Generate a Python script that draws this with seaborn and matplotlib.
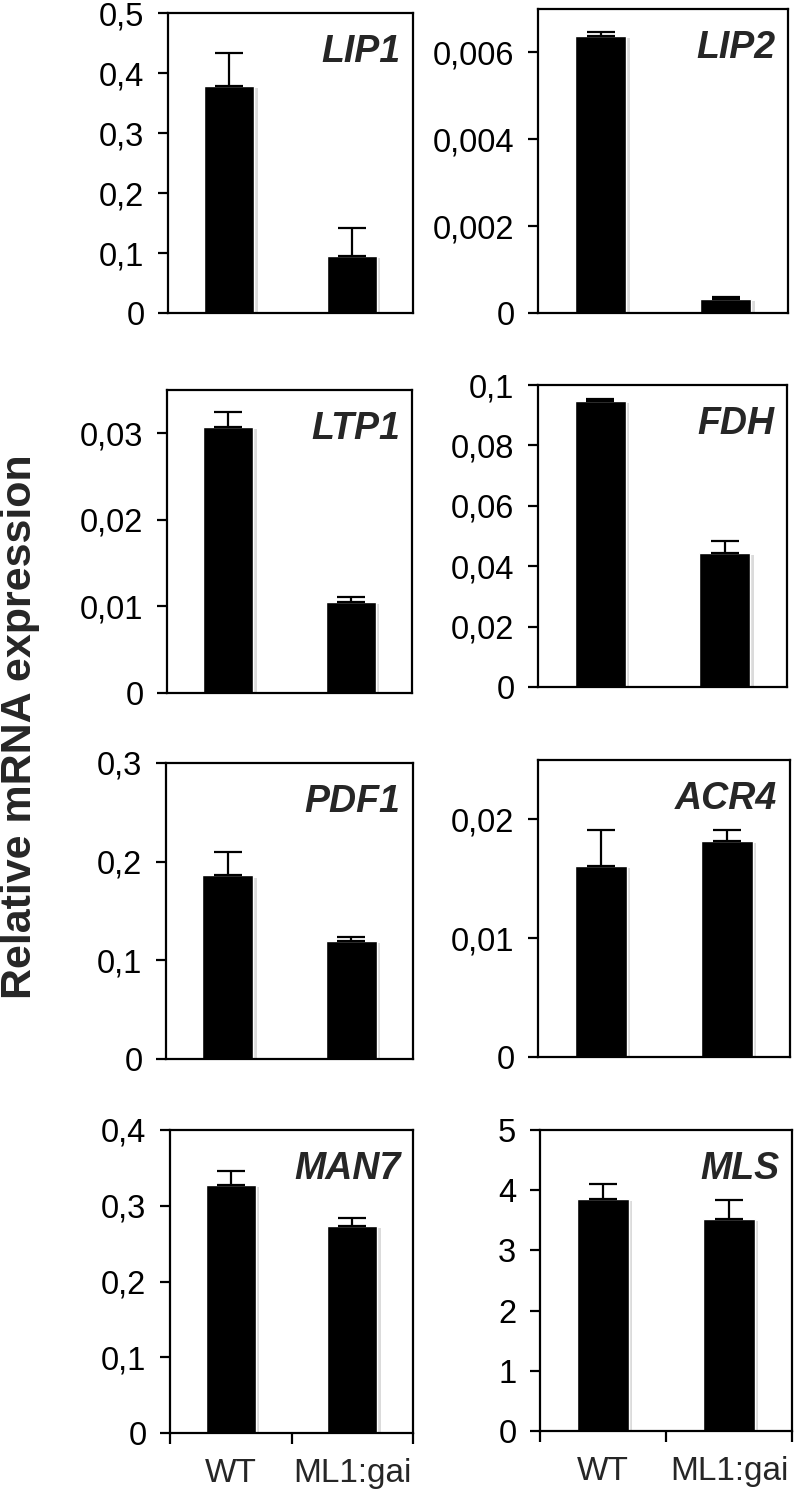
import numpy as np
import pandas as pd
import matplotlib
matplotlib.use("Agg")
import matplotlib.pyplot as plt
import matplotlib.patheffects as pe
import seaborn as sns

sns.set_theme(style="white")
plt.rcParams['font.family'] = ['Liberation Sans', 'DejaVu Sans']

# ---- data ----
groups = ["WT", "ML1:gai"]
genes = ["LIP1", "LIP2", "LTP1", "FDH", "PDF1", "ACR4", "MAN7", "MLS"]
means = {
    "LIP1": [0.379, 0.095],
    "LIP2": [0.00638, 0.00032],
    "LTP1": [0.0307, 0.0105],
    "FDH":  [0.0948, 0.0445],
    "PDF1": [0.186, 0.120],
    "ACR4": [0.0161, 0.0182],
    "MAN7": [0.3275, 0.2735],
    "MLS":  [3.86, 3.52],
}
errors = {
    "LIP1": [0.054, 0.046],
    "LIP2": [0.0001, 0.00004],
    "LTP1": [0.0018, 0.0006],
    "FDH":  [0.0005, 0.0038],
    "PDF1": [0.024, 0.004],
    "ACR4": [0.0030, 0.0009],
    "MAN7": [0.0185, 0.0100],
    "MLS":  [0.25, 0.31],
}
ylims = {"LIP1": 0.5, "LIP2": 0.007, "LTP1": 0.035, "FDH": 0.1,
         "PDF1": 0.3, "ACR4": 0.025, "MAN7": 0.4, "MLS": 5}
yticks = {
    "LIP1": [0, 0.1, 0.2, 0.3, 0.4, 0.5],
    "LIP2": [0, 0.002, 0.004, 0.006],
    "LTP1": [0, 0.01, 0.02, 0.03],
    "FDH":  [0, 0.02, 0.04, 0.06, 0.08, 0.1],
    "PDF1": [0, 0.1, 0.2, 0.3],
    "ACR4": [0, 0.01, 0.02],
    "MAN7": [0, 0.1, 0.2, 0.3, 0.4],
    "MLS":  [0, 1, 2, 3, 4, 5],
}
ylabel = "Relative mRNA expression"

# ---- layout (pixel boxes: left, top, right, bottom) ----
W, H = 797, 1500
boxes = {
    "LIP1": (168, 13, 413, 313),
    "LIP2": (538, 9, 788, 313),
    "LTP1": (167, 390, 412, 693),
    "FDH":  (538, 385, 787, 687),
    "PDF1": (166, 763, 413, 1059),
    "ACR4": (538, 760, 790, 1057),
    "MAN7": (170, 1130, 413, 1433),
    "MLS":  (540, 1130, 792, 1431),
}
bottom_row = {"MAN7", "MLS"}

fig = plt.figure(figsize=(W / 100, H / 100), dpi=100)

for g in genes:
    l, t, r, b = boxes[g]
    ax = fig.add_axes([l / W, 1 - b / H, (r - l) / W, (b - t) / H])
    df = pd.DataFrame({"group": groups, "value": means[g]})
    sns.barplot(data=df, x="group", y="value", order=groups, color="black",
                width=0.41, errorbar=None, ax=ax, saturation=1)
    for p in ax.patches:
        p.set_path_effects([pe.SimplePatchShadow(offset=(2.5, -1.5), shadow_rgbFace="#9a9a9a", alpha=0.35),
                            pe.Normal()])
    ax.errorbar([0, 1], means[g], yerr=[[0, 0], errors[g]], fmt="none",
                ecolor="black", elinewidth=1.6, capsize=10, capthick=1.6, zorder=5)
    ax.set_xlim(-0.5, 1.5)
    ax.set_ylim(0, ylims[g])
    ax.set_yticks(yticks[g])
    ax.set_yticklabels([f"{v:g}".replace(".", ",") for v in yticks[g]], fontsize=23.5)
    ax.set_xlabel("")
    ax.set_ylabel("")
    for s in ax.spines.values():
        s.set_visible(True)
        s.set_color("black")
        s.set_linewidth(1.6)
    ax.tick_params(axis="y", direction="out", length=7, width=1.6, pad=10,
                   left=True, colors="black")
    if g in bottom_row:
        ax.set_xticks([-0.5, 0.5, 1.5])
        ax.set_xticklabels(["", "", ""])
        ax.set_xticks([0, 1], minor=True)
        ax.set_xticklabels(groups, minor=True, fontsize=24)
        ax.tick_params(axis="x", which="major", direction="out", length=8, width=1.6,
                       bottom=True, colors="black")
        ax.tick_params(axis="x", which="minor", length=0, pad=18, bottom=True)
    else:
        ax.set_xticks([])
    ax.text(0.95, 0.93, g, transform=ax.transAxes, ha="right", va="top",
            fontsize=27, fontweight="bold", fontstyle="italic")
    ax.set_facecolor("white")

fig.text(20 / W, 1 - 727 / H, ylabel, rotation=90, ha="center", va="center",
         fontsize=31, fontweight="bold")

fig.savefig("out.png", dpi=100, facecolor="white")
